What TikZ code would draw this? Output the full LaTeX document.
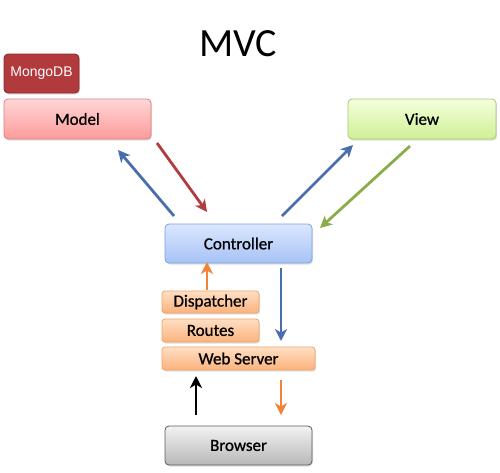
\documentclass[tikz,border=0pt]{standalone}
\usepackage{fontspec}
\setmainfont{Carlito}
\newfontfamily\boxf[FakeBold=0.8]{Carlito}
\newfontfamily\arialf{Liberation Sans}
\usetikzlibrary{arrows.meta,shadows}
\definecolor{arblue}{HTML}{4A6DAE}
\definecolor{arred}{HTML}{B03C40}
\definecolor{argreen}{HTML}{8CAC4A}
\definecolor{arorange}{HTML}{F0823A}
\definecolor{mtop}{HTML}{FFD6D6}\definecolor{mbot}{HTML}{FD9A9A}\definecolor{mbd}{HTML}{D88080}
\definecolor{vtop}{HTML}{F4FFDC}\definecolor{vbot}{HTML}{CFF095}\definecolor{vbd}{HTML}{A8C870}
\definecolor{ctop}{HTML}{DCE7FF}\definecolor{cbot}{HTML}{A6C2F6}\definecolor{cbd}{HTML}{7F9FD8}
\definecolor{otop}{HTML}{FFDFC4}\definecolor{obot}{HTML}{FBB27C}\definecolor{obd}{HTML}{EFA468}
\definecolor{gtop}{HTML}{F2F2F2}\definecolor{gbot}{HTML}{B8B8B8}\definecolor{gbd}{HTML}{5A5A5A}
\definecolor{mgfill}{HTML}{B13A3D}\definecolor{mgbd}{HTML}{8A2A2C}
\tikzset{
  box/.style={rounded corners=4pt, line width=0.8pt, inner sep=0pt, font=\boxf\fontsize{17}{19}\selectfont,
    drop shadow={opacity=0.25, shadow xshift=1pt, shadow yshift=-1.5pt}},
  modelbox/.style={box, draw=mbd, top color=mtop, bottom color=mbot},
  viewbox/.style={box, draw=vbd, top color=vtop, bottom color=vbot},
  ctrlbox/.style={box, draw=cbd, top color=ctop, bottom color=cbot},
  orbox/.style={box, rounded corners=3pt, draw=obd, top color=otop, bottom color=obot},
  grbox/.style={box, draw=gbd, top color=gtop, bottom color=gbot},
  mongobox/.style={box, font=\arialf\fontsize{14}{16}\selectfont, text=white, draw=mgbd, fill=mgfill},
  arr/.style={line width=2.8pt, -{Stealth[length=12pt, width=12pt, inset=3.5pt]}},
}
\begin{document}
\begin{tikzpicture}[x=1pt,y=-1pt]
\useasboundingbox (0,0) rectangle (500,472);
\node[font=\fontsize{40}{44}\selectfont] (title) at (238,44) {MVC};
\node[mongobox, minimum width=75pt, minimum height=39pt] (mongo) at (41.5,73.5) {MongoDB};
\node[modelbox, minimum width=147pt, minimum height=40pt] (model) at (77.5,119) {Model};
\node[viewbox, minimum width=148pt, minimum height=40pt] (view) at (422,119) {View};
\node[ctrlbox, minimum width=147pt, minimum height=39pt] (ctrl) at (238.5,243.5) {Controller};
\node[orbox, minimum width=97pt, minimum height=22pt] (disp) at (210.5,302) {Dispatcher};
\node[orbox, minimum width=97pt, minimum height=23pt] (routes) at (210.5,330.5) {Routes};
\node[orbox, minimum width=153pt, minimum height=23pt] (web) at (238.5,358.5) {Web Server};
\node[grbox, minimum width=147pt, minimum height=39pt] (browser) at (238.5,445.5) {Browser};
% arrow end points
\coordinate (a1s) at (174,216); \coordinate (a1e) at (118,150);
\coordinate (a2s) at (157,143); \coordinate (a2e) at (207,212);
\coordinate (a3s) at (282,216); \coordinate (a3e) at (353,145);
\coordinate (a4s) at (410,146); \coordinate (a4e) at (320,228);
\coordinate (a5s) at (207,290); \coordinate (a5e) at (207,262);
\coordinate (a6s) at (281,268); \coordinate (a6e) at (281,341);
\coordinate (a7s) at (196,415); \coordinate (a7e) at (196,376);
\coordinate (a8s) at (281,380); \coordinate (a8e) at (281,415);
\draw[arr, arblue] (a1s) -- (a1e);
\draw[arr, arred] (a2s) -- (a2e);
\draw[arr, arblue] (a3s) -- (a3e);
\draw[arr, argreen] (a4s) -- (a4e);
\draw[arr, arorange] (a5s) -- (a5e);
\draw[arr, arblue] (a6s) -- (a6e);
\draw[arr, black] (a7s) -- (a7e);
\draw[arr, arorange] (a8s) -- (a8e);
\end{tikzpicture}
\end{document}
